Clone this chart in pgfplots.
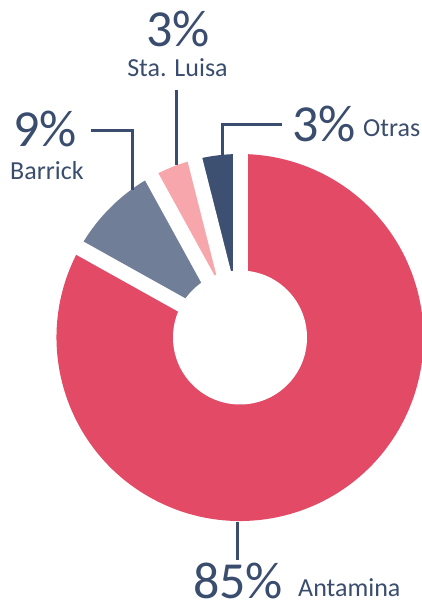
\documentclass[border=0pt]{standalone}
\usepackage{fontspec}
\setmainfont{Carlito}
\usepackage{pgfplots}
\usepackage{pgfplotstable}
\pgfplotsset{compat=1.18}

\definecolor{cRed}{HTML}{E24A66}
\definecolor{cGray}{HTML}{717E97}
\definecolor{cPink}{HTML}{F7A7AC}
\definecolor{cNavy}{HTML}{3D5071}
\definecolor{cText}{HTML}{3A4D6E}

% share of each slice, counter-clockwise from 12 o'clock
\pgfplotstableread{
name      value
Otras     3.95
StaLuisa  4.05
Barrick   8.9
Antamina  83.1
}\sharetable

\begin{document}
\begin{tikzpicture}
\pgfplotstablegetelem{0}{value}\of\sharetable \let\vA\pgfplotsretval
\pgfplotstablegetelem{1}{value}\of\sharetable \let\vB\pgfplotsretval
\pgfplotstablegetelem{2}{value}\of\sharetable \let\vC\pgfplotsretval
\pgfmathsetmacro\aA{90+3.6*\vA}
\pgfmathsetmacro\aB{\aA+3.6*\vB}
\pgfmathsetmacro\aC{\aB+3.6*\vC}
\def\cx{240}
\def\cy{269.5}
\def\R{183.5}
\begin{axis}[
    x=1pt, y=1pt, disabledatascaling,
    xmin=0, xmax=422, ymin=0, ymax=607,
    hide axis, clip=false,
]
\coordinate (bl) at (axis cs:0,0);
\coordinate (tr) at (axis cs:422,607);
% slices
\fill[cNavy] (axis cs:\cx,\cy) -- (axis cs:\cx,{\cy+\R})
    arc[start angle=90, end angle=\aA, radius=\R pt] -- cycle;
\fill[cPink] (axis cs:\cx,\cy) -- (axis cs:{\cx+\R*cos(\aA)},{\cy+\R*sin(\aA)})
    arc[start angle=\aA, end angle=\aB, radius=\R pt] -- cycle;
\fill[cGray] (axis cs:\cx,\cy) -- (axis cs:{\cx+\R*cos(\aB)},{\cy+\R*sin(\aB)})
    arc[start angle=\aB, end angle=\aC, radius=\R pt] -- cycle;
\fill[cRed] (axis cs:\cx,\cy) -- (axis cs:{\cx+\R*cos(\aC)},{\cy+\R*sin(\aC)})
    arc[start angle=\aC, end angle=450, radius=\R pt] -- cycle;
% gaps and hole
\draw[white, line width=15pt] (axis cs:\cx,\cy) -- (axis cs:\cx,{\cy+\R+10});
\draw[white, line width=15pt] (axis cs:\cx,\cy) -- (axis cs:{\cx+(\R+10)*cos(\aA)},{\cy+(\R+10)*sin(\aA)});
\draw[white, line width=15pt] (axis cs:\cx,\cy) -- (axis cs:{\cx+(\R+10)*cos(\aB)},{\cy+(\R+10)*sin(\aB)});
\draw[white, line width=15pt] (axis cs:\cx,\cy) -- (axis cs:{\cx+(\R+10)*cos(\aC)},{\cy+(\R+10)*sin(\aC)});
\fill[white] (axis cs:\cx,\cy) circle[radius=67pt];

% leader lines
\draw[cText, line width=3pt] (axis cs:176,517) -- (axis cs:176,442);
\draw[cText, line width=3pt] (axis cs:91,476) -- (axis cs:132,476) -- (axis cs:132,417);
\draw[cText, line width=3pt] (axis cs:282,482) -- (axis cs:222,482) -- (axis cs:222,452);
\draw[cText, line width=3pt] (axis cs:237,85) -- (axis cs:237,47);

% labels
\begin{scope}[every node/.style={text=cText, inner sep=0pt}]
\node[anchor=base] at (axis cs:178,560) {\fontsize{52}{60}\selectfont 3\%};
\node[anchor=base] at (axis cs:177.5,530) {\fontsize{26}{30}\selectfont Sta. Luisa};
\node[anchor=base west] at (axis cs:13,460) {\fontsize{52}{60}\selectfont 9\%};
\node[anchor=base west] at (axis cs:10,427) {\fontsize{26}{30}\selectfont Barrick};
\node[anchor=base west] at (axis cs:292,465) {\fontsize{52}{60}\selectfont 3\%};
\node[anchor=base west] at (axis cs:363,470) {\fontsize{26}{30}\selectfont Otras};
\node[anchor=base west] at (axis cs:193,9) {\fontsize{52}{60}\selectfont 85\%};
\node[anchor=base west] at (axis cs:298,11) {\fontsize{26}{30}\selectfont Antamina};
\end{scope}
\end{axis}
\pgfresetboundingbox
\path (bl) rectangle (tr);
\end{tikzpicture}
\end{document}
